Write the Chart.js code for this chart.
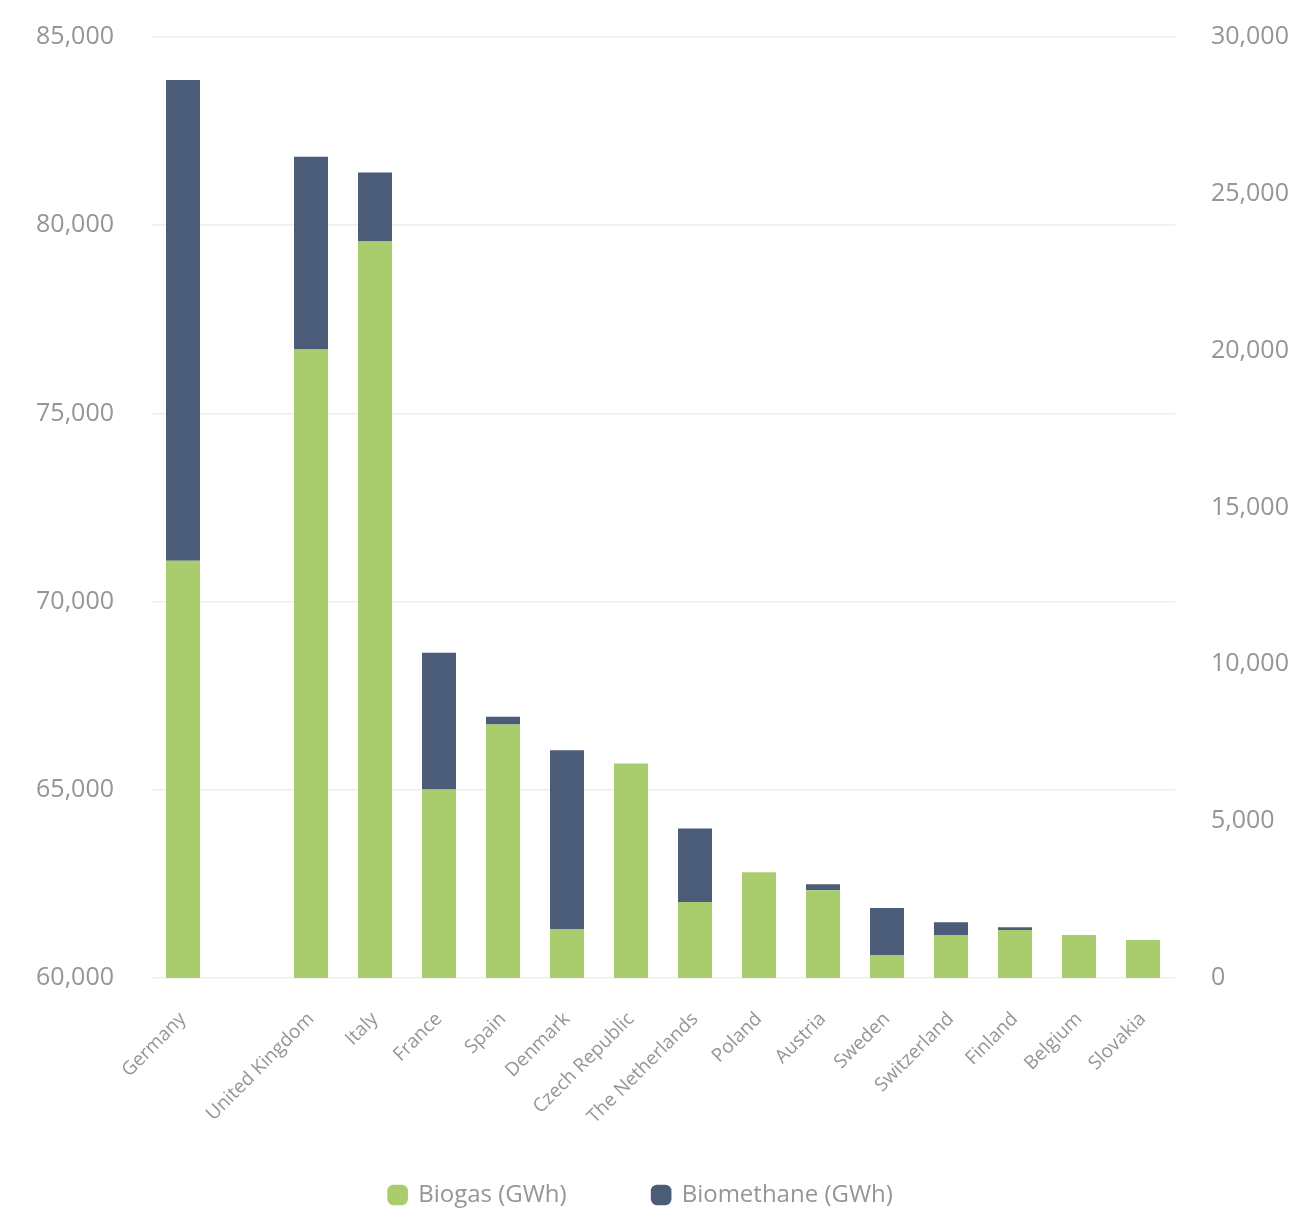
<!DOCTYPE html>
<html>
<head>
<meta charset="utf-8">
<script src="https://cdn.jsdelivr.net/npm/chart.js@4.4.1/dist/chart.umd.min.js"></script>
<style>
  html, body { margin: 0; padding: 0; background: #ffffff; overflow: hidden; }
  #wrap { width: 1302px; height: 1224px; position: relative; top: -15px; }
</style>
</head>
<body>
<div id="wrap"><canvas id="gasChart"></canvas></div>
<script>
// Biogas / biomethane production by country (GWh), stacked
const countries = ['Germany', '', 'United Kingdom', 'Italy', 'France', 'Spain', 'Denmark',
  'Czech Republic', 'The Netherlands', 'Poland', 'Austria', 'Sweden', 'Switzerland',
  'Finland', 'Belgium', 'Slovakia'];
const biogas     = [13300, 0, 20040, 23480, 6010, 8080, 1560, 6840, 2420, 3370, 2800, 730, 1370, 1530, 1370, 1210];
const biomethane = [15330, 0, 6140, 2200, 4360, 250, 5700, 0, 2350, 0, 190, 1500, 410, 90, 0, 0];

// left and right axis ranges
const leftTicks  = { min: 60000, max: 85000, step: 5000 };
const rightTicks = { min: 0, max: 30000, step: 5000 };

const green = '#a9cc6c';
const navy = '#4b5c79';
const labelGrey = '#959595';
const fontFamily = '"Open Sans", sans-serif';
const axisFont = { family: fontFamily, size: 25 };
const catFont = { family: fontFamily, size: 19 };
const legendFont = { family: fontFamily, size: 24 };
const fmt = v => Number(v).toLocaleString('en-US');

// the legend items sit far apart; that same padding would push them far
// below the legend top, so keep the box short and draw the row higher
const LEGEND_H = 76;
const LEGEND_LIFT = 36;
const LEGEND_NUDGE = -10;
const legendTrim = {
  id: 'legendTrim',
  beforeLayout(chart) {
    const lg = chart.legend;
    if (!lg || lg._trimmed) return;
    const fit = lg.fit;
    lg.fit = function () { fit.call(this); this.height = LEGEND_H; };
    const drawItems = lg._draw;
    lg._draw = function () {
      this.ctx.save();
      this.ctx.translate(LEGEND_NUDGE, -LEGEND_LIFT);
      drawItems.call(this);
      this.ctx.restore();
    };
    lg._trimmed = true;
  }
};

new Chart(document.getElementById('gasChart'), {
  type: 'bar',
  data: {
    labels: countries,
    datasets: [
      { label: 'Biogas (GWh)', data: biogas, backgroundColor: green, yAxisID: 'y1',
        barPercentage: 0.9, categoryPercentage: 0.59 },
      { label: 'Biomethane (GWh)', data: biomethane, backgroundColor: navy, yAxisID: 'y1',
        barPercentage: 0.9, categoryPercentage: 0.59 }
    ]
  },
  options: {
    responsive: true,
    maintainAspectRatio: false,
    animation: false,
    layout: { padding: { top: 0, bottom: 0, left: 0, right: 0 } },
    scales: {
      x: {
        stacked: true,
        grid: { display: false },
        border: { display: false },
        ticks: { color: labelGrey, font: catFont, minRotation: 45, maxRotation: 45, autoSkip: false, padding: 22 },
        afterFit: s => { s.height = 155; }
      },
      y: {
        position: 'left',
        min: leftTicks.min, max: leftTicks.max,
        grid: { color: '#eeeeee', drawTicks: false, lineWidth: 1.5 },
        border: { display: false },
        ticks: { stepSize: leftTicks.step, color: labelGrey, font: axisFont, padding: 37, callback: fmt },
        afterFit: s => { s.width = 151; }
      },
      y1: {
        position: 'right',
        stacked: true,
        min: rightTicks.min, max: rightTicks.max,
        grid: { display: false, drawTicks: false },
        border: { display: false },
        ticks: { stepSize: rightTicks.step, color: labelGrey, font: axisFont, padding: 36, callback: fmt },
        afterFit: s => { s.width = 127; }
      }
    },
    plugins: {
      legend: {
        position: 'bottom',
        labels: { color: labelGrey, font: legendFont, boxWidth: 17, boxHeight: 17, padding: 86,
          usePointStyle: true, pointStyle: 'rectRounded' }
      },
      tooltip: { enabled: false }
    }
  },
  plugins: [legendTrim]
});
</script>
</body>
</html>
